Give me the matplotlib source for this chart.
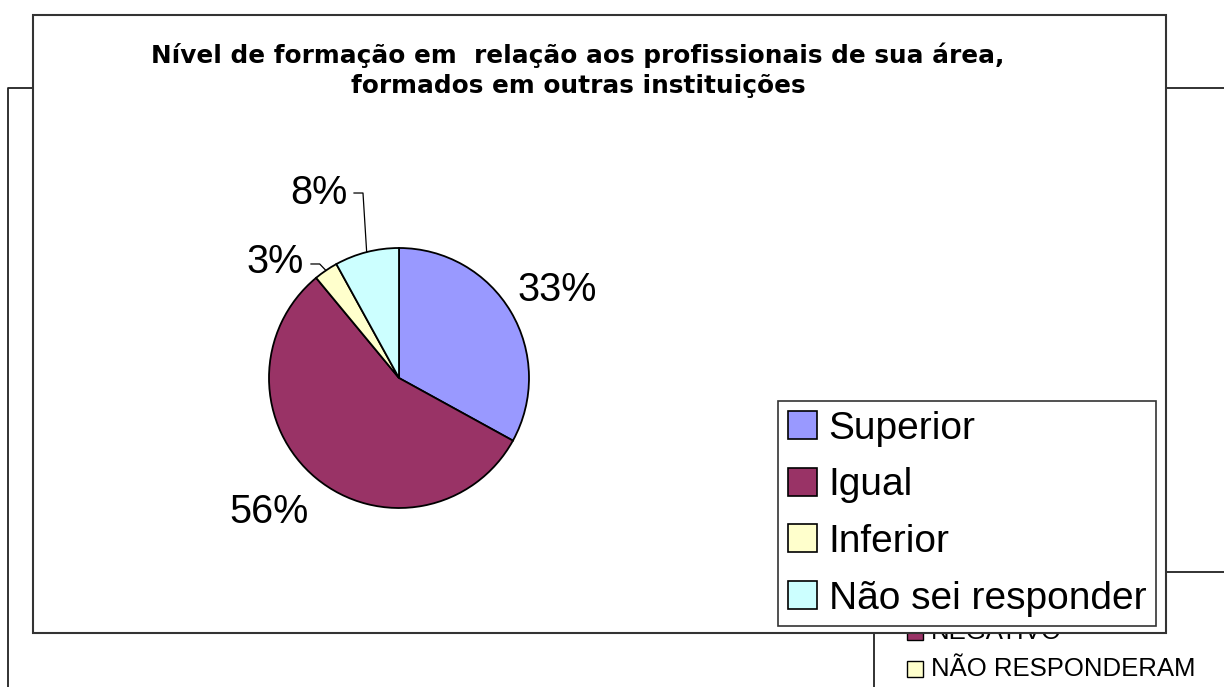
import numpy as np
import matplotlib
matplotlib.use("Agg")
import matplotlib.pyplot as plt
from matplotlib.patches import Rectangle, Patch
from matplotlib.lines import Line2D

plt.rcParams['font.family'] = ['Liberation Sans', 'DejaVu Sans']

# data
categories = ['Superior', 'Igual', 'Inferior', 'Não sei responder']
percent = [33, 56, 3, 8]
colors = ['#9999FF', '#993366', '#FFFFCC', '#CCFFFF']
title_lines = ['Nível de formação em  relação aos profissionais de sua área,',
               'formados em outras instituições']
bg_legend = ['NEGATIVO', 'NÃO RESPONDERAM']
bg_colors = ['#993366', '#FFFFCC']

W, H = 1224, 687
fig = plt.figure(figsize=(W / 100, H / 100), dpi=100)


def fx(x):
    return x / W


def fy(y):
    return 1 - y / H


def fline(xs, ys, **kw):
    fig.add_artist(Line2D([fx(x) for x in xs], [fy(y) for y in ys],
                          transform=fig.transFigure, color='#222222', lw=1.3,
                          zorder=0.5, **kw))


# chart behind (mostly hidden)
fline([8, 8, 40], [687, 88, 88])
fline([1160, 1224], [88, 88])
fline([874, 874, 1224], [687, 572, 572])
for i, (lab, c) in enumerate(zip(bg_legend, bg_colors)):
    yc = 632 + i * 37
    fig.add_artist(Rectangle((fx(907), fy(yc + 8)), 16 / W, 16 / H,
                             transform=fig.transFigure, facecolor=c,
                             edgecolor='black', lw=1, zorder=0.5))
    fig.text(fx(931), fy(yc), lab, fontsize=18.5, va='center', ha='left',
             zorder=0.5)

# main chart area
fig.add_artist(Rectangle((fx(33), fy(633)), (1166 - 33) / W, (633 - 15) / H,
                         transform=fig.transFigure, facecolor='white',
                         edgecolor='#333333', lw=1.5, zorder=1))

for txt, yb in zip(title_lines, [63, 93]):
    fig.text(fx(578), fy(yb), txt, fontsize=17.8, fontweight='bold',
             family=['DejaVu Sans'], ha='center', va='baseline', zorder=3)

# pie axes: center (399,378), radius 130 px
R = 130
half = 200
ax = fig.add_axes([fx(399 - half), fy(378 + half), 2 * half / W, 2 * half / H])
ax.set_zorder(2)

wedges, _ = ax.pie(percent, colors=colors, startangle=90, counterclock=False,
                   radius=1, wedgeprops=dict(edgecolor='black', linewidth=1.3))
ax.set_xlim(-half / R, half / R)
ax.set_ylim(-half / R, half / R)
ax.axis('off')
ax.patch.set_alpha(0)

# label placement (style only)
label_pos = [(1.22, 0.68), (-1.0, -1.03), (-0.95, 0.89), (-0.615, 1.42)]
leader = [None, None, [(-0.61, 0.877), (-0.677, 0.877)],
          [(-0.277, 1.423), (-0.346, 1.423)]]
for w, p, (lx, ly), ld in zip(wedges, percent, label_pos, leader):
    ax.text(lx, ly, f'{p}%', fontsize=28.5, ha='center', va='center')
    if ld is not None:
        th = np.deg2rad((w.theta1 + w.theta2) / 2)
        xs = [np.cos(th)] + [q[0] for q in ld]
        ys = [np.sin(th)] + [q[1] for q in ld]
        ax.plot(xs, ys, color='black', lw=0.9, clip_on=False)

handles = [Patch(facecolor=c, edgecolor='black', lw=1.2) for c in colors]
leg = fig.legend(handles, categories, loc='upper left',
                 bbox_to_anchor=(fx(778), fy(401)), bbox_transform=fig.transFigure,
                 fontsize=28, frameon=True, fancybox=False, borderaxespad=0,
                 handlelength=0.75, handleheight=0.72, handletextpad=0.3,
                 labelspacing=0.53, borderpad=0.25, framealpha=1)
leg.get_frame().set_edgecolor('#333333')
leg.get_frame().set_linewidth(1.2)
leg.set_zorder(4)

fig.savefig('out.png', dpi=100)
